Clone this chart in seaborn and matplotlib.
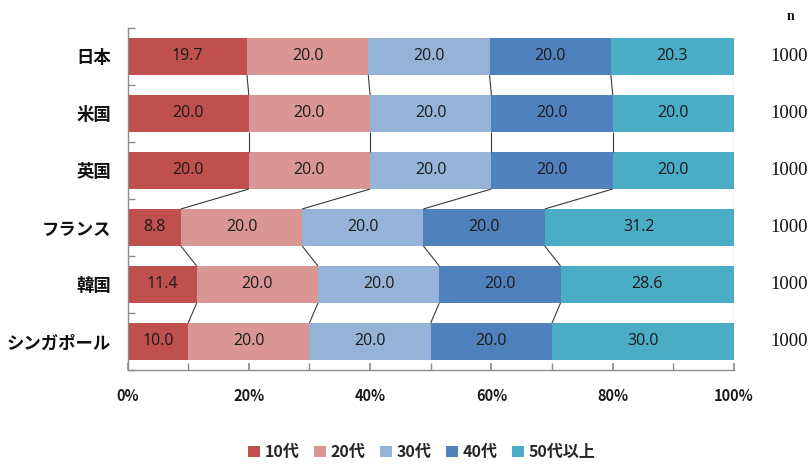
import numpy as np
import pandas as pd
import matplotlib
matplotlib.use("Agg")
import matplotlib.pyplot as plt
from matplotlib.patches import Patch
from matplotlib.ticker import MultipleLocator, FixedLocator
import seaborn as sns

# Age composition of respondents by country (%)
countries = ["日本", "米国", "英国", "フランス", "韓国", "シンガポール"]
age_groups = ["10代", "20代", "30代", "40代", "50代以上"]
teens = [19.7, 20.0, 20.0, 8.8, 11.4, 10.0]
twenties = [20.0, 20.0, 20.0, 20.0, 20.0, 20.0]
thirties = [20.0, 20.0, 20.0, 20.0, 20.0, 20.0]
forties = [20.0, 20.0, 20.0, 20.0, 20.0, 20.0]
fifties_plus = [20.3, 20.0, 20.0, 31.2, 28.6, 30.0]
sample_sizes = [1000, 1000, 1000, 1000, 1000, 1000]
n_label = "n"

colors = ["#C0504D", "#DA9694", "#95B3D7", "#4F81BD", "#4BACC6"]

sns.set_theme(style="white")
plt.rcParams["font.family"] = ["Noto Sans CJK JP", "DejaVu Sans"]

series = [teens, twenties, thirties, forties, fifties_plus]
shares = np.array(series) / 100.0          # shape (groups, countries)
cum = np.cumsum(shares, axis=0)             # right edge of each segment
left = cum - shares

fig = plt.figure(figsize=(8.08, 4.69), dpi=100)
ax = fig.add_axes([0.1578, 0.2111, 0.7506, 0.7292])

bar_w = 0.65
# Stack by overdrawing cumulative totals from the outermost segment inward
for g in reversed(range(len(age_groups))):
    df = pd.DataFrame({"country": countries, "cum": cum[g]})
    sns.barplot(data=df, y="country", x="cum", order=countries, orient="h",
                color=colors[g], saturation=1, width=bar_w, ax=ax,
                linewidth=0, errorbar=None)

# Segment value labels
for g in range(len(age_groups)):
    for i in range(len(countries)):
        ax.text(left[g, i] + shares[g, i] / 2, i, f"{series[g][i]:.1f}",
                ha="center", va="center", fontsize=11.5, color="#1a1a1a",
                family=["Open Sans", "DejaVu Sans"])

# Series lines joining segment boundaries of neighbouring bars
half = bar_w / 2
for g in range(len(age_groups)):
    for i in range(len(countries) - 1):
        ax.plot([cum[g, i], cum[g, i + 1]], [i + half, i + 1 - half],
                color="#3a3a3a", lw=0.8, solid_capstyle="butt", zorder=3)

ax.set_xlim(0, 1)
ax.set_ylim(len(countries) - 0.5, -0.5)
ax.xaxis.set_major_locator(MultipleLocator(0.2))
ax.xaxis.set_minor_locator(MultipleLocator(0.1))
ax.set_xticklabels([f"{int(round(v * 100))}%" for v in ax.get_xticks()])
ax.yaxis.set_minor_locator(FixedLocator(np.arange(-0.5, len(countries), 1.0)))
ax.set_xlabel("")
ax.set_ylabel("")

for side in ("top", "right"):
    ax.spines[side].set_visible(False)
for side in ("left", "bottom"):
    ax.spines[side].set_color("#8c8c8c")
    ax.spines[side].set_linewidth(1.0)

ax.tick_params(axis="x", which="both", direction="in", length=5,
               color="#8c8c8c", labelsize=10.5, pad=13, bottom=True)
ax.tick_params(axis="y", which="major", length=0, labelsize=12.5, pad=12)
ax.tick_params(axis="y", which="minor", direction="in", length=5,
               color="#8c8c8c", left=True)
for lbl in ax.get_xticklabels():
    lbl.set_fontweight("bold")
    lbl.set_color("#1a1a1a")
for lbl in ax.get_yticklabels():
    lbl.set_fontweight("bold")
    lbl.set_color("#111111")

# Sample sizes on the right
trans = matplotlib.transforms.blended_transform_factory(fig.transFigure, ax.transData)
for i, n in enumerate(sample_sizes):
    ax.text(0.9765, i, f"{n}", transform=trans, ha="center", va="center",
            fontsize=13.5, family="Liberation Serif", color="#111111")
fig.text(0.978, 1 - 16 / 469, n_label, ha="center", va="center",
         fontsize=10, family="Liberation Serif", fontweight="bold", color="#111111")

handles = [Patch(facecolor=c, edgecolor="none") for c in colors]
leg = fig.legend(handles, age_groups, loc="center", bbox_to_anchor=(0.522, 0.036),
                 ncol=5, frameon=False, handlelength=0.75, handleheight=0.75,
                 handletextpad=0.3, columnspacing=0.9,
                 prop={"size": 11.5, "weight": "bold"})

fig.savefig("out.png", dpi=100)
